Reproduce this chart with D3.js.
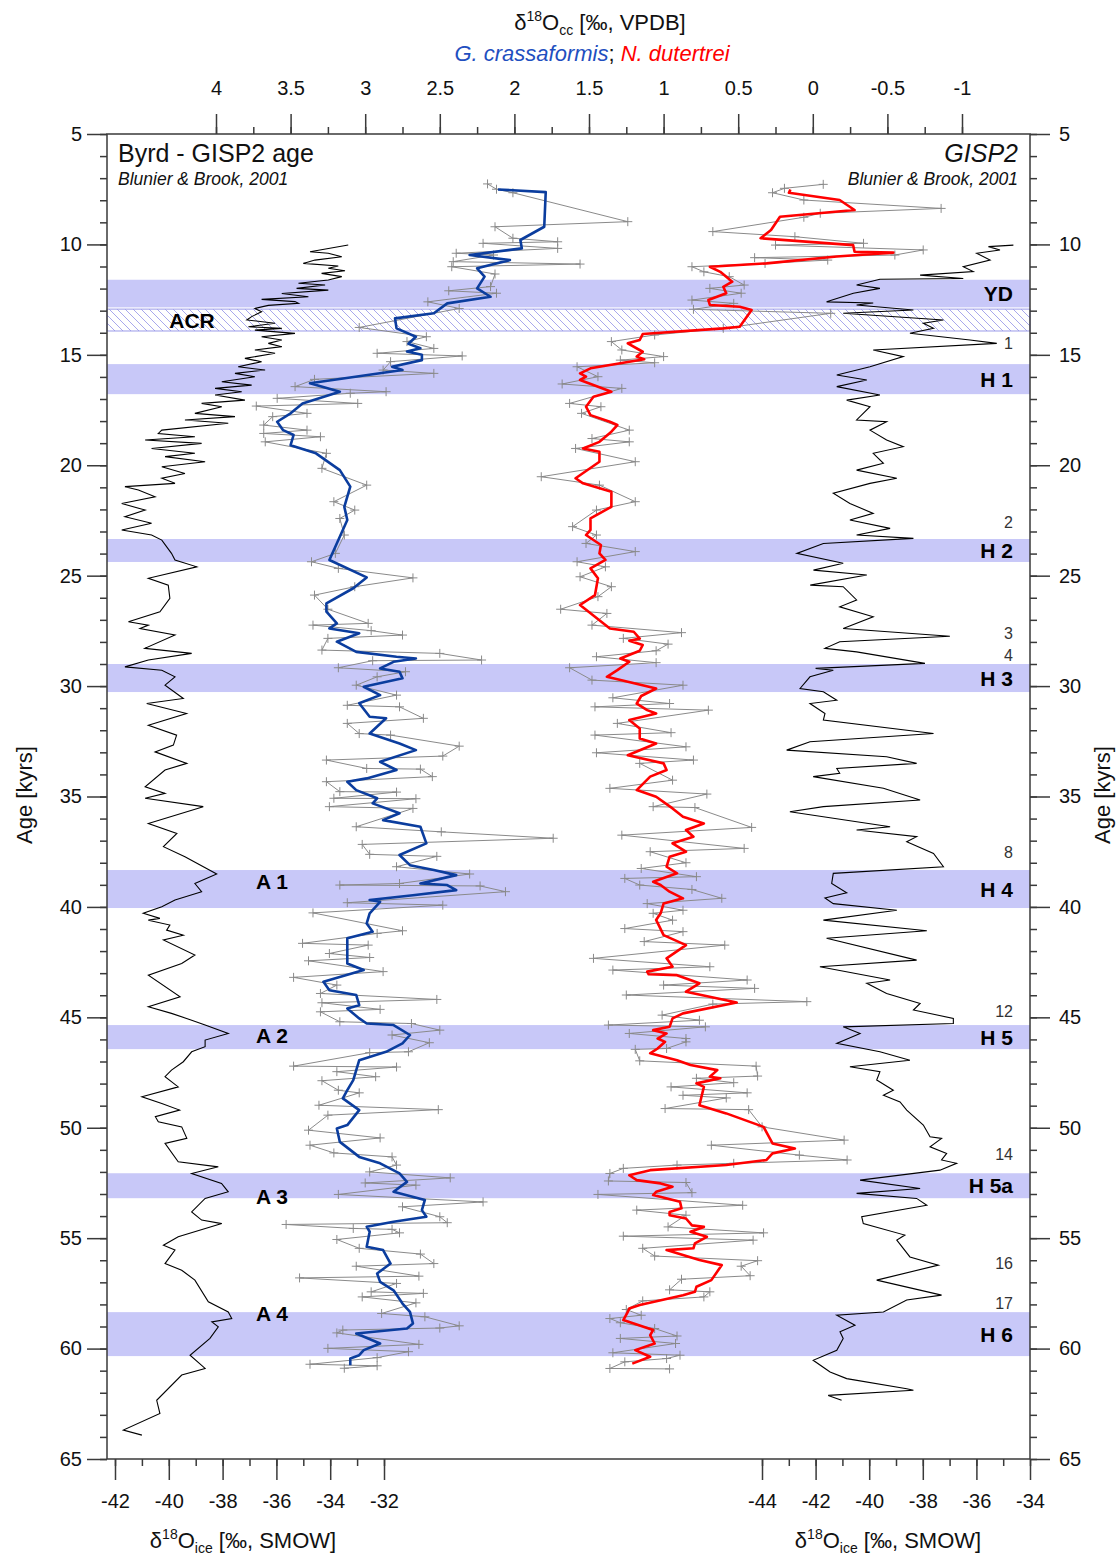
<!DOCTYPE html>
<html><head><meta charset="utf-8">
<script src="https://cdn.jsdelivr.net/npm/d3@7"></script>
<style>body{margin:0;background:#fff}</style></head>
<body>
<svg id="chart" width="1118" height="1555"></svg>
<script>
// ---------------- DATA ----------------
const ageTicks = [5,10,15,20,25,30,35,40,45,50,55,60,65];
const topTicks = [4,3.5,3,2.5,2,1.5,1,0.5,0,-0.5,-1];
const byrdTicks = [-42,-40,-38,-36,-34,-32];
const gispTicks = [-44,-42,-40,-38,-36,-34];

const bandNames = ["YD","H 1","H 2","H 3","H 4","H 5","H 5a","H 6"];
const bandStart = [11.6,15.42,23.34,29.0,38.33,45.35,52.06,58.35];
const bandEnd   = [12.85,16.78,24.38,30.27,40.05,46.44,53.19,60.34];
const acrBand = [12.93,13.92];
const aNames = ["A 1","A 2","A 3","A 4"];
const aAges  = [38.86,45.8,53.13,58.41];
const doNames = ["1","2","3","4","8","12","14","16","17"];
const doAges  = [14.47,22.6,27.6,28.6,37.55,44.75,51.2,56.15,57.96];

// Byrd d18O ice [age kyr, permil]
const byrd = [[10.03,-33.33],[10.33,-34.75],[10.4,-34.07],[10.56,-33.57],[10.71,-34.57],[10.86,-35.0],[10.98,-33.7],[11.08,-34.07],[11.19,-33.45],[11.31,-34.32],[11.46,-33.57],[11.61,-34.07],[11.76,-35.18],[11.84,-34.19],[11.99,-35.25],[12.07,-34.07],[12.22,-35.8],[12.37,-34.81],[12.49,-36.55],[12.59,-35.31],[12.67,-35.18],[12.76,-36.3],[12.9,-36.8],[13.05,-36.55],[13.27,-36.92],[13.42,-37.1],[13.57,-36.05],[13.73,-37.04],[13.8,-35.8],[13.88,-36.8],[14.03,-35.31],[14.18,-36.55],[14.33,-35.8],[14.48,-36.3],[14.63,-35.8],[14.78,-36.8],[14.93,-36.05],[15.16,-37.17],[15.31,-36.55],[15.54,-37.42],[15.69,-36.42],[15.84,-37.54],[15.99,-36.8],[16.22,-38.03],[16.37,-36.92],[16.52,-38.28],[16.67,-37.29],[16.82,-38.28],[17.05,-37.17],[17.2,-38.78],[17.35,-38.03],[17.65,-39.03],[17.8,-37.54],[17.95,-39.4],[18.1,-37.79],[18.41,-40.26],[18.56,-40.39],[18.71,-39.03],[18.86,-40.88],[19.01,-38.78],[19.24,-40.64],[19.46,-39.03],[19.61,-40.14],[19.84,-38.65],[20.07,-40.26],[20.37,-39.4],[20.59,-40.26],[20.82,-39.77],[20.97,-41.63],[21.12,-41.13],[21.43,-40.51],[21.73,-41.75],[22.03,-40.88],[22.33,-41.63],[22.63,-40.64],[22.93,-41.75],[23.16,-40.64],[23.39,-40.26],[23.99,-39.9],[24.29,-39.77],[24.6,-38.96],[25.12,-40.76],[25.43,-40.02],[26.03,-39.96],[26.64,-40.33],[27.09,-41.5],[27.24,-40.76],[27.39,-41.07],[27.69,-39.77],[28.29,-40.89],[28.52,-39.15],[28.82,-40.76],[29.13,-41.63],[29.28,-40.26],[29.58,-39.77],[29.96,-40.14],[30.56,-39.46],[30.79,-40.82],[31.24,-39.34],[31.77,-40.76],[32.22,-39.71],[32.67,-39.83],[32.98,-40.51],[33.5,-39.33],[33.8,-40.14],[34.56,-40.88],[34.86,-40.14],[35.08,-40.88],[35.46,-38.72],[36.22,-40.76],[36.67,-39.7],[37.27,-40.2],[37.73,-39.4],[38.51,-38.22],[38.94,-39.03],[39.31,-38.78],[39.69,-39.77],[39.99,-40.26],[40.29,-40.95],[40.52,-40.33],[40.6,-40.76],[40.82,-39.96],[41.05,-40.08],[41.28,-39.46],[41.5,-40.2],[42.18,-39.03],[42.56,-39.52],[43.09,-40.76],[44.07,-39.58],[44.52,-40.76],[44.82,-39.9],[45.13,-39.15],[45.35,-38.65],[45.73,-37.79],[46.03,-38.65],[46.33,-38.65],[46.56,-39.15],[47.01,-39.46],[47.39,-39.9],[47.69,-40.14],[48.15,-39.65],[48.6,-41.0],[48.9,-40.26],[49.2,-39.6],[49.5,-40.5],[49.73,-40.39],[49.96,-39.52],[50.48,-39.33],[50.71,-40.14],[51.54,-39.65],[51.77,-38.16],[52.07,-39.15],[52.52,-38.04],[52.9,-37.79],[53.2,-38.65],[53.81,-39.15],[54.18,-38.78],[54.34,-38.03],[54.94,-39.65],[55.32,-40.2],[55.54,-39.77],[56.15,-40.14],[56.45,-39.52],[56.9,-39.03],[57.88,-38.53],[58.34,-37.79],[58.64,-37.66],[58.79,-38.4],[59.02,-38.16],[59.54,-38.47],[60.3,-39.21],[60.9,-38.65],[61.2,-39.52],[62.34,-40.45],[62.94,-40.33],[63.69,-41.69],[63.92,-41.0]];

// GISP2 d18O ice [age kyr, permil]
const gisp2 = [[10.03,-34.62],[10.1,-35.55],[10.25,-35.12],[10.4,-35.99],[10.71,-35.49],[11.01,-36.49],[11.23,-36.12],[11.39,-38.1],[11.54,-36.49],[11.58,-39.6],[11.84,-40.47],[11.99,-39.6],[12.21,-40.59],[12.6,-41.59],[12.65,-39.85],[12.74,-40.47],[12.97,-38.35],[13.12,-40.97],[13.42,-37.23],[13.57,-37.98],[13.8,-37.6],[14.02,-38.48],[14.33,-36.24],[14.48,-35.24],[14.78,-39.85],[15.08,-38.73],[15.54,-39.97],[15.91,-41.21],[16.14,-40.09],[16.44,-41.21],[16.82,-39.6],[17.05,-40.84],[17.35,-39.97],[17.95,-40.47],[18.03,-39.35],[18.41,-39.97],[18.86,-39.35],[19.16,-38.73],[19.46,-39.85],[19.91,-39.47],[20.22,-40.47],[20.59,-38.97],[20.82,-39.97],[21.27,-41.34],[21.73,-40.72],[22.18,-39.85],[22.48,-40.72],[22.86,-39.22],[23.16,-40.47],[23.31,-38.35],[23.54,-41.71],[23.99,-42.7],[24.44,-40.97],[24.75,-42.08],[24.97,-40.09],[25.43,-42.2],[25.5,-40.97],[26.1,-40.47],[26.41,-41.1],[26.86,-39.85],[27.39,-40.97],[27.74,-36.99],[27.99,-41.1],[28.29,-41.65],[28.45,-40.47],[28.97,-37.92],[29.2,-42.0],[29.28,-41.34],[29.58,-42.21],[30.11,-42.58],[30.26,-41.71],[30.64,-41.21],[30.79,-42.21],[31.24,-41.65],[31.54,-41.71],[32.15,-37.6],[32.52,-42.21],[32.9,-43.08],[33.2,-39.35],[33.5,-38.23],[33.73,-41.21],[33.95,-41.1],[34.1,-42.09],[34.63,-39.47],[35.16,-38.1],[35.46,-41.71],[35.69,-42.96],[36.37,-39.22],[36.52,-40.47],[36.82,-38.23],[37.05,-38.6],[37.58,-37.6],[38.18,-37.23],[38.48,-41.34],[38.94,-41.4],[39.36,-40.84],[39.6,-41.65],[39.85,-41.34],[40.15,-38.97],[40.6,-41.71],[41.08,-37.85],[41.42,-41.59],[42.41,-38.23],[42.71,-41.84],[43.31,-39.22],[43.46,-40.09],[43.92,-39.35],[44.37,-38.1],[44.67,-38.35],[45.05,-36.86],[45.28,-36.86],[45.43,-40.97],[45.73,-40.34],[45.96,-40.78],[46.18,-41.21],[46.56,-39.6],[46.94,-38.48],[47.24,-40.72],[47.46,-39.6],[47.84,-39.72],[48.3,-39.1],[48.53,-39.47],[48.83,-38.85],[49.2,-38.6],[49.88,-37.98],[50.41,-37.73],[50.48,-37.3],[50.86,-37.73],[51.16,-37.11],[51.46,-37.3],[51.61,-36.74],[51.92,-37.36],[52.37,-40.34],[52.75,-38.1],[52.97,-40.47],[53.2,-38.23],[53.51,-37.85],[54.03,-40.28],[54.34,-40.22],[54.86,-38.67],[55.09,-38.97],[55.85,-38.48],[56.22,-37.42],[56.9,-39.72],[57.58,-37.3],[57.8,-38.6],[58.34,-39.47],[58.49,-41.21],[58.94,-40.53],[59.24,-41.09],[59.54,-40.97],[60.08,-41.21],[60.53,-42.09],[61.06,-41.46],[61.36,-40.84],[61.82,-38.6],[61.89,-38.35],[62.12,-41.53],[62.34,-41.03]];

// G. crassaformis d18O cc (smoothed) [age, permil]
const crassaSmooth = [[7.51,2.11],[7.63,1.79],[9.2,1.8],[9.8,1.96],[10.18,1.95],[10.48,2.3],[10.71,2.03],[11.08,2.25],[11.46,2.2],[11.99,2.25],[12.37,2.16],[12.67,2.45],[13.12,2.54],[13.35,2.8],[13.8,2.79],[14.18,2.66],[14.5,2.71],[14.7,2.63],[14.85,2.72],[15.0,2.62],[15.24,2.62],[15.54,2.82],[15.69,2.75],[16.29,3.37],[16.67,3.17],[17.2,3.42],[17.65,3.5],[18.03,3.59],[18.41,3.55],[18.63,3.48],[19.09,3.5],[19.46,3.33],[20.22,3.17],[20.97,3.1],[21.88,3.14],[22.48,3.12],[24.29,3.24],[25.08,2.99],[25.57,3.08],[26.25,3.26],[26.63,3.26],[27.16,3.19],[27.39,3.24],[27.61,3.04],[27.99,3.19],[28.45,3.06],[28.67,2.79],[28.75,2.66],[28.9,2.81],[29.2,2.9],[29.35,2.77],[29.65,2.75],[30.03,3.01],[30.41,2.9],[30.78,3.04],[31.39,2.97],[31.46,2.86],[32.15,2.97],[32.6,2.77],[32.9,2.66],[33.43,2.9],[33.8,2.79],[34.18,2.99],[34.33,3.12],[34.71,3.06],[35.08,2.92],[35.31,2.95],[35.76,2.77],[36.07,2.88],[36.37,2.63],[37.12,2.59],[37.65,2.77],[38.11,2.7],[38.33,2.54],[38.56,2.39],[38.94,2.63],[39.01,2.45],[39.24,2.39],[39.47,2.68],[39.69,2.97],[39.77,2.9],[40.29,2.97],[40.75,2.99],[41.12,2.95],[41.42,3.12],[42.56,3.12],[42.86,3.01],[43.39,3.28],[43.77,3.24],[43.99,3.06],[44.45,3.04],[44.6,3.12],[45.05,3.04],[45.28,2.99],[45.35,2.81],[45.8,2.7],[46.18,2.75],[46.56,2.86],[46.94,3.04],[47.39,3.06],[47.84,3.08],[48.3,3.12],[48.67,3.15],[49.2,3.04],[49.88,3.12],[50.03,3.19],[50.64,3.17],[51.32,3.04],[51.61,2.9],[52.07,2.77],[52.45,2.72],[52.9,2.81],[53.27,2.6],[53.73,2.62],[54.03,2.59],[54.26,2.81],[54.48,2.99],[54.71,2.97],[55.39,2.99],[55.54,2.88],[56.15,2.83],[56.6,2.92],[56.98,2.9],[57.36,2.81],[57.96,2.75],[58.34,2.7],[58.86,2.68],[59.09,2.72],[59.32,3.06],[59.77,2.9],[60.07,3.01],[60.3,3.04],[60.45,3.1],[60.75,3.1]];

// G. crassaformis raw measurements
const crassaRaw = [[7.26,2.18],[7.5,2.12],[7.66,2.01],[8.97,1.24],[9.2,2.13],[9.72,2.01],[9.88,1.71],[9.95,2.21],[10.18,1.71],[10.4,2.39],[10.48,2.14],[10.78,2.41],[10.89,1.56],[11.01,2.42],[11.34,2.13],[11.91,2.16],[12.1,2.44],[12.21,2.12],[12.6,2.58],[12.9,2.37],[13.76,3.04],[14.18,2.59],[14.4,2.72],[14.71,2.54],[14.93,2.92],[15.05,2.35],[15.31,2.83],[15.69,2.88],[15.84,2.54],[16.11,3.34],[16.44,3.47],[16.67,2.86],[16.74,3.1],[16.97,3.59],[17.2,3.05],[17.32,3.73],[17.65,3.39],[17.8,3.62],[18.18,3.68],[18.41,3.39],[18.56,3.68],[18.71,3.3],[18.94,3.67],[19.46,3.26],[20.14,3.29],[20.9,2.99],[21.65,3.21],[22.03,3.07],[22.41,3.17],[23.16,3.14],[23.99,3.2],[24.37,3.36],[24.67,3.18],[25.1,2.68],[25.5,3.07],[25.88,3.34],[26.52,3.25],[27.16,2.98],[27.24,3.35],[27.49,2.96],[27.69,2.75],[27.84,3.25],[28.37,3.29],[28.52,2.5],[28.82,2.22],[28.85,2.95],[29.17,3.18],[29.35,2.73],[29.58,2.92],[29.96,3.06],[30.41,2.79],[30.87,3.12],[30.94,2.77],[31.46,2.61],[31.69,3.12],[32.15,3.04],[32.22,2.83],[32.72,2.37],[33.17,2.48],[33.35,3.26],[33.73,2.99],[33.76,2.63],[34.1,2.55],[34.33,3.26],[34.78,3.17],[34.8,2.79],[35.08,3.21],[35.1,2.66],[35.46,3.24],[35.54,2.68],[36.37,3.06],[36.6,2.49],[36.89,1.74],[37.17,3.02],[37.62,2.97],[37.71,2.52],[38.18,2.79],[38.51,2.3],[38.94,2.77],[39.01,3.17],[39.05,2.23],[39.31,2.06],[39.81,3.12],[39.92,2.48],[40.27,3.35],[41.08,2.75],[41.2,2.92],[41.65,3.42],[41.73,2.98],[42.11,3.24],[42.29,2.97],[42.44,3.38],[42.93,2.88],[43.19,3.48],[43.54,3.19],[43.92,3.3],[44.19,2.52],[44.34,3.29],[44.64,2.9],[44.75,3.3],[45.2,3.17],[45.28,2.69],[45.58,2.5],[45.8,2.82],[46.15,2.57],[46.56,2.71],[46.6,2.97],[47.21,3.48],[47.25,2.79],[47.46,3.19],[47.69,2.93],[47.87,3.29],[48.3,3.18],[48.42,3.04],[48.98,3.31],[49.18,2.51],[49.43,3.25],[50.11,3.38],[50.46,2.9],[50.79,3.37],[51.14,3.21],[51.32,2.82],[51.69,2.79],[52.0,2.97],[52.27,2.43],[52.5,3.0],[52.6,2.66],[53.02,3.18],[53.36,2.21],[53.58,2.75],[54.03,2.5],[54.3,2.45],[54.38,3.53],[54.56,3.08],[54.6,2.82],[54.76,2.77],[55.06,3.19],[55.46,3.04],[55.72,2.63],[56.15,2.54],[56.27,3.06],[56.72,2.64],[56.8,3.44],[57.05,2.79],[57.43,2.96],[57.5,2.61],[57.66,3.02],[57.93,2.66],[58.41,2.89],[58.56,2.6],[58.97,2.37],[59.07,2.5],[59.16,3.15],[59.29,3.19],[59.81,2.64],[59.99,3.25],[60.14,2.71],[60.41,2.92],[60.71,3.37],[60.78,2.92],[60.89,3.14]];

// N. dutertrei d18O cc (smoothed)
const dutSmooth = [[7.51,0.15],[7.66,0.16],[7.99,-0.18],[8.44,-0.28],[8.75,0.22],[9.35,0.28],[9.72,0.35],[10.03,-0.27],[10.33,-0.28],[10.37,-0.54],[10.55,-0.16],[10.86,0.31],[11.01,0.69],[11.24,0.62],[11.69,0.54],[11.92,0.6],[12.21,0.58],[12.52,0.7],[12.74,0.69],[12.82,0.49],[12.97,0.41],[13.73,0.49],[13.8,0.6],[14.06,1.14],[14.33,1.16],[14.48,1.24],[14.86,1.14],[15.08,1.18],[15.2,1.13],[15.61,1.49],[15.84,1.56],[15.99,1.52],[16.14,1.56],[16.67,1.35],[16.9,1.47],[17.35,1.52],[17.73,1.49],[18.03,1.36],[18.18,1.31],[18.48,1.35],[18.94,1.43],[19.24,1.54],[19.39,1.43],[19.84,1.43],[20.59,1.59],[20.82,1.54],[21.2,1.35],[21.88,1.35],[22.41,1.49],[22.93,1.49],[23.16,1.52],[23.61,1.42],[23.99,1.43],[24.29,1.39],[24.67,1.49],[25.12,1.44],[25.88,1.46],[26.33,1.56],[27.39,1.36],[27.54,1.2],[27.85,1.16],[27.95,1.23],[28.14,1.14],[28.4,1.16],[28.75,1.29],[28.9,1.23],[29.28,1.31],[29.58,1.38],[30.11,1.05],[30.45,1.15],[30.79,1.18],[31.09,1.11],[31.24,1.05],[31.54,1.23],[31.92,1.16],[32.37,1.16],[32.6,1.05],[33.13,1.24],[33.5,1.0],[33.8,0.98],[34.1,1.09],[34.71,1.18],[35.01,1.05],[35.54,0.94],[35.92,0.87],[36.22,0.73],[36.52,0.85],[36.82,0.8],[37.12,0.94],[37.5,0.85],[37.73,0.96],[38.18,0.98],[38.48,0.91],[38.86,1.07],[39.01,1.02],[39.31,0.96],[39.61,0.87],[39.85,1.0],[40.29,1.02],[40.59,1.05],[41.28,1.0],[41.73,0.85],[42.33,0.98],[42.71,0.94],[42.93,1.11],[43.05,1.1],[43.09,0.91],[43.46,0.76],[43.84,0.85],[44.33,0.51],[44.82,0.87],[45.05,0.94],[45.43,0.96],[45.58,1.07],[45.73,0.98],[45.96,1.04],[46.11,0.99],[46.41,1.04],[46.63,1.09],[46.94,0.91],[47.16,0.82],[47.39,0.64],[47.69,0.69],[47.76,0.62],[47.99,0.78],[48.15,0.73],[48.98,0.76],[49.35,0.58],[49.96,0.33],[50.71,0.27],[50.94,0.12],[51.16,0.27],[51.46,0.31],[51.69,0.58],[51.92,1.09],[52.15,1.23],[52.37,1.18],[52.52,1.02],[52.67,0.94],[52.9,1.05],[53.05,1.07],[53.35,0.89],[53.65,0.88],[53.81,0.96],[53.96,0.96],[54.11,0.85],[54.42,0.81],[54.49,0.73],[54.71,0.82],[54.94,0.71],[55.24,0.79],[55.46,0.8],[55.54,0.98],[55.99,0.76],[56.22,0.61],[56.9,0.68],[57.2,0.78],[57.43,0.79],[57.58,0.87],[58.03,1.16],[58.18,1.23],[58.34,1.24],[58.71,1.27],[59.16,1.07],[59.39,1.09],[59.77,1.06],[60.07,1.19],[60.37,1.09],[60.68,1.21]];

// N. dutertrei raw measurements
const dutRaw = [[7.28,-0.07],[7.46,0.19],[7.66,0.27],[7.99,0.06],[8.37,-0.86],[8.59,-0.05],[8.77,0.06],[9.42,0.67],[9.65,0.12],[9.95,-0.34],[10.03,0.25],[10.25,-0.74],[10.48,-0.55],[10.6,0.39],[10.71,-0.1],[10.86,0.32],[11.01,0.81],[11.24,0.73],[11.46,0.56],[11.84,0.46],[11.99,0.69],[12.21,0.48],[12.52,0.81],[12.67,0.53],[12.94,0.8],[13.12,-0.12],[13.8,0.6],[14.1,1.06],[14.4,1.35],[14.78,1.28],[15.08,1.0],[15.24,1.29],[15.36,1.06],[15.54,1.58],[15.99,1.44],[16.32,1.68],[16.52,1.28],[17.2,1.63],[17.35,1.42],[17.65,1.55],[18.41,1.23],[18.79,1.48],[18.94,1.23],[19.24,1.59],[19.84,1.19],[20.52,1.82],[20.9,1.43],[21.65,1.19],[22.03,1.45],[22.78,1.61],[23.16,1.45],[23.54,1.52],[23.91,1.19],[24.37,1.58],[24.6,1.39],[25.05,1.56],[25.5,1.35],[25.95,1.44],[26.52,1.69],[26.71,1.38],[27.24,1.48],[27.58,0.88],[27.84,1.27],[28.1,0.97],[28.4,1.05],[28.67,1.45],[28.94,1.05],[29.17,1.63],[29.73,1.48],[29.96,0.87],[30.53,1.34],[30.79,0.96],[30.94,1.46],[31.09,0.7],[31.69,1.31],[32.11,0.95],[32.22,1.46],[32.75,0.85],[33.02,1.45],[33.35,0.8],[33.5,1.16],[34.26,0.94],[34.63,1.36],[34.89,0.71],[35.46,1.07],[35.5,0.79],[36.4,0.41],[36.75,1.28],[37.35,0.46],[37.5,1.09],[38.0,0.85],[38.26,1.15],[38.63,0.78],[38.71,1.26],[39.01,1.16],[39.21,0.81],[39.61,0.61],[39.85,1.11],[40.15,0.87],[40.29,1.07],[40.6,0.94],[40.98,1.26],[41.12,0.87],[41.57,1.13],[41.73,0.59],[42.33,1.47],[42.71,0.69],[42.86,1.34],[43.31,0.44],[43.54,1.0],[43.69,0.39],[43.99,1.25],[44.29,0.04],[44.4,0.67],[44.9,1.01],[45.13,0.76],[45.35,1.37],[45.43,0.72],[45.73,1.23],[45.96,0.85],[46.11,0.85],[46.41,0.98],[46.45,1.19],[46.97,1.16],[47.21,0.38],[47.66,0.37],[47.76,0.78],[47.96,0.53],[48.15,0.95],[48.42,0.44],[48.53,0.87],[48.65,0.58],[49.13,0.99],[49.18,0.43],[49.96,0.34],[50.56,-0.21],[50.79,0.68],[51.24,0.09],[51.46,-0.23],[51.61,0.53],[51.69,0.91],[51.84,1.27],[52.07,1.36],[52.41,1.37],[52.48,0.85],[52.94,0.81],[53.02,1.44],[53.51,0.47],[53.73,1.18],[53.96,0.85],[54.49,0.97],[54.76,0.33],[54.91,1.27],[55.09,0.4],[55.46,1.14],[55.81,1.06],[56.02,0.37],[56.27,0.48],[56.7,0.42],[56.86,0.88],[57.34,0.96],[57.43,0.69],[57.66,0.73],[57.84,1.14],[58.23,1.25],[58.49,1.15],[58.64,1.36],[58.83,1.29],[59.09,1.06],[59.43,0.91],[59.54,1.29],[59.77,0.92],[60.19,1.34],[60.3,0.89],[60.45,0.98],[60.6,1.26],[60.9,1.36],[60.92,0.96]];

// ---------------- LAYOUT ----------------
const L = 107, R = 1030, T = 134, B = 1459;
const FONT = "'Liberation Sans', Arial, sans-serif";
const AX = "#3a3a3a";
const BAND = "#c8c8f8";
const GREY = "#8a8a8a";
const BLUE = "#0b3d9e";
const RED = "#ff0000";

const svg = d3.select("#chart");
const y = d3.scaleLinear().domain([5,65]).range([T,B]);
const xTop = d3.scaleLinear().domain([4,-1]).range([216,962]);
const xByrd = d3.scaleLinear().domain([-42,-32]).range([115,384]);
const xGisp = d3.scaleLinear().domain([-44,-34]).range([762,1030]);

const defs = svg.append("defs");
const pat = defs.append("pattern").attr("id","hatch").attr("patternUnits","userSpaceOnUse")
  .attr("width",8).attr("height",8);
pat.append("rect").attr("width",8).attr("height",8).attr("fill","#fff");
pat.append("path").attr("d","M0,0L8,8M-4,4L4,12M4,-4L12,4").attr("stroke","#a8a8ec").attr("stroke-width",1);
defs.append("clipPath").attr("id","plot").append("rect").attr("x",L).attr("y",T).attr("width",R-L).attr("height",B-T);

// bands
svg.append("g").selectAll("rect").data(bandNames).join("rect")
  .attr("x",L).attr("width",R-L)
  .attr("y",(d,i)=>y(bandStart[i])).attr("height",(d,i)=>y(bandEnd[i])-y(bandStart[i]))
  .attr("fill",BAND);
svg.append("rect").attr("x",L).attr("width",R-L).attr("y",y(acrBand[0])).attr("height",y(acrBand[1])-y(acrBand[0]))
  .attr("fill","url(#hatch)").attr("stroke","#9a9ae8").attr("stroke-width",1);

const plot = svg.append("g").attr("clip-path","url(#plot)");
const sortA = a => a.slice().sort((p,q)=>p[0]-q[0]);

// ice cores
plot.append("path").datum(sortA(byrd))
  .attr("d", d3.line().x(d=>xByrd(d[1])).y(d=>y(d[0])))
  .attr("fill","none").attr("stroke","#000").attr("stroke-width",1.1);
plot.append("path").datum(sortA(gisp2))
  .attr("d", d3.line().x(d=>xGisp(d[1])).y(d=>y(d[0])))
  .attr("fill","none").attr("stroke","#000").attr("stroke-width",1.1);

// raw data
const lineTop = d3.line().x(d=>xTop(d[1])).y(d=>y(d[0]));
[crassaRaw, dutRaw].forEach(arr=>{
  const s = sortA(arr);
  plot.append("path").datum(s).attr("d",lineTop).attr("fill","none").attr("stroke",GREY).attr("stroke-width",1);
  plot.append("g").selectAll("path").data(s).join("path")
    .attr("d",d=>`M${xTop(d[1])-4.5},${y(d[0])}h9M${xTop(d[1])},${y(d[0])-4.5}v9`)
    .attr("stroke",GREY).attr("stroke-width",1);
});
plot.append("path").datum(sortA(crassaSmooth)).attr("d",lineTop).attr("fill","none")
  .attr("stroke",BLUE).attr("stroke-width",2.6).attr("stroke-linejoin","round");
plot.append("path").datum(sortA(dutSmooth)).attr("d",lineTop).attr("fill","none")
  .attr("stroke",RED).attr("stroke-width",2.6).attr("stroke-linejoin","round");

// frame
svg.append("rect").attr("x",L).attr("y",T).attr("width",R-L).attr("height",B-T)
  .attr("fill","none").attr("stroke",AX).attr("stroke-width",1.5);

// axes
const TS = 20;
function styleAxis(g){
  g.select(".domain").remove();
  g.selectAll("line").attr("stroke",AX).attr("stroke-width",1.5);
  g.selectAll("text").attr("font-family",FONT).attr("font-size",TS).attr("fill","#111");
}
const ageMinor = d3.range(5,66,1);
svg.append("g").attr("transform",`translate(${L},0)`)
  .call(d3.axisLeft(y).tickValues(ageMinor).tickSize(7).tickFormat("")).call(styleAxis);
svg.append("g").attr("transform",`translate(${L},0)`)
  .call(d3.axisLeft(y).tickValues(ageTicks).tickSize(20).tickPadding(5).tickFormat(d=>String(d))).call(styleAxis);
svg.append("g").attr("transform",`translate(${R},0)`)
  .call(d3.axisRight(y).tickValues(ageMinor).tickSize(7).tickFormat("")).call(styleAxis);
svg.append("g").attr("transform",`translate(${R},0)`)
  .call(d3.axisRight(y).tickValues(ageTicks).tickSize(20).tickPadding(9).tickFormat(d=>String(d))).call(styleAxis);

const topMinor = d3.range(0,21).map(i=>4-i*0.25);
svg.append("g").attr("transform",`translate(0,${T})`)
  .call(d3.axisTop(xTop).tickValues(topMinor).tickSize(7).tickFormat("")).call(styleAxis);
svg.append("g").attr("transform",`translate(0,${T})`)
  .call(d3.axisTop(xTop).tickValues(topTicks).tickSize(20).tickPadding(19).tickFormat(d=>String(d))).call(styleAxis);

svg.append("g").attr("transform",`translate(0,${B})`)
  .call(d3.axisBottom(xByrd).tickValues(d3.range(-42,-31,1)).tickSize(7).tickFormat("")).call(styleAxis);
svg.append("g").attr("transform",`translate(0,${B})`)
  .call(d3.axisBottom(xByrd).tickValues(byrdTicks).tickSize(21).tickPadding(14).tickFormat(d=>String(d))).call(styleAxis);
svg.append("g").attr("transform",`translate(0,${B})`)
  .call(d3.axisBottom(xGisp).tickValues(d3.range(-44,-33,1)).tickSize(7).tickFormat("")).call(styleAxis);
svg.append("g").attr("transform",`translate(0,${B})`)
  .call(d3.axisBottom(xGisp).tickValues(gispTicks).tickSize(21).tickPadding(14).tickFormat(d=>String(d))).call(styleAxis);

// labels
const txt = (x,yy,s,opt={}) => svg.append("text").attr("x",x).attr("y",yy).text(s)
  .attr("font-family",FONT).attr("font-size",opt.size||18).attr("fill",opt.fill||"#111")
  .attr("font-weight",opt.weight||"normal").attr("font-style",opt.style||"normal")
  .attr("text-anchor",opt.anchor||"start").attr("dominant-baseline",opt.base||"auto");

svg.append("g").selectAll("text").data(bandNames).join("text")
  .attr("x",1013).attr("y",(d,i)=>y((bandStart[i]+bandEnd[i])/2)).text(d=>d)
  .attr("font-family",FONT).attr("font-size",21).attr("font-weight","bold").attr("fill","#000")
  .attr("text-anchor","end").attr("dominant-baseline","central");
svg.append("g").selectAll("text").data(aNames).join("text")
  .attr("x",272).attr("y",(d,i)=>y(aAges[i])).text(d=>d)
  .attr("font-family",FONT).attr("font-size",21).attr("font-weight","bold").attr("fill","#000")
  .attr("text-anchor","middle").attr("dominant-baseline","central");
txt(192,y((acrBand[0]+acrBand[1])/2),"ACR",{size:21,weight:"bold",anchor:"middle",base:"central",fill:"#000"});
svg.append("g").selectAll("text").data(doNames).join("text")
  .attr("x",1013).attr("y",(d,i)=>y(doAges[i])).text(d=>d)
  .attr("font-family",FONT).attr("font-size",16).attr("fill","#333")
  .attr("text-anchor","end").attr("dominant-baseline","central");

txt(118,162,"Byrd - GISP2 age",{size:25});
txt(118,185,"Blunier & Brook, 2001",{size:17.5,style:"italic"});
txt(1018,162,"GISP2",{size:25,style:"italic",anchor:"end"});
txt(1018,185,"Blunier & Brook, 2001",{size:17.5,style:"italic",anchor:"end"});

function deltaLabel(x,yy,sub,rest){
  const t = svg.append("text").attr("x",x).attr("y",yy).attr("text-anchor","middle")
    .attr("font-family",FONT).attr("font-size",22).attr("fill","#111");
  t.append("tspan").text("δ");
  t.append("tspan").text("18").attr("font-size",14).attr("dy",-9);
  t.append("tspan").text("O").attr("dy",9);
  t.append("tspan").text(sub).attr("font-size",14).attr("dy",5);
  t.append("tspan").text(rest).attr("dy",-5);
}
deltaLabel(600,30,"cc"," [‰, VPDB]");
deltaLabel(243,1548,"ice"," [‰, SMOW]");
deltaLabel(888,1548,"ice"," [‰, SMOW]");

const t2 = svg.append("text").attr("x",592).attr("y",61).attr("text-anchor","middle")
  .attr("font-family",FONT).attr("font-size",22).attr("font-style","italic");
t2.append("tspan").text("G. crassaformis").attr("fill","#1f4fc0");
t2.append("tspan").text("; ").attr("fill","#111").attr("font-style","normal");
t2.append("tspan").text("N. dutertrei").attr("fill","#ff0000");

svg.append("text").attr("transform","translate(32,795) rotate(-90)").attr("text-anchor","middle")
  .attr("font-family",FONT).attr("font-size",22).attr("fill","#111").text("Age [kyrs]");
svg.append("text").attr("transform","translate(1110,795) rotate(-90)").attr("text-anchor","middle")
  .attr("font-family",FONT).attr("font-size",22).attr("fill","#111").text("Age [kyrs]");
</script>
</body></html>
